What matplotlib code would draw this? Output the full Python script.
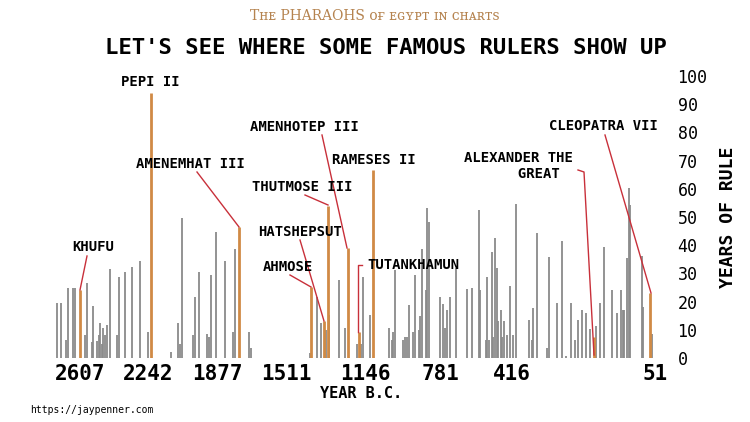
import numpy as np
import matplotlib
matplotlib.use("Agg")
import matplotlib.pyplot as plt

tick_years = [2607, 2242, 1877, 1511, 1146, 781, 416, 51]
tick_pos = [80, 148, 217, 286, 365, 440, 512, 655]

years = [2729, 2709, 2682, 2671, 2643, 2635, 2582, 2571, 2543, 2536, 2517, 2507, 2498, 2489,
         2482, 2473, 2462, 2446, 2407, 2398, 2364, 2329, 2285, 2243,
         2120, 2082, 2073, 2062, 2006, 1995, 1972, 1932, 1918, 1909, 1882,
         1833, 1794, 1782, 1706, 1696,
         1400, 1366, 1349, 1326, 1311, 1266, 1238, 1182, 1165, 1157,
         1122, 1029, 1016, 1008, 1000, 962, 951, 940, 932, 911, 901, 885, 878, 867, 850, 843, 833,
         781, 767, 756, 747, 730, 700, 646, 619, 585, 578, 548, 545, 531, 519, 511, 502, 494, 485,
         473, 465, 455, 443, 426, 413, 406, 374, 366, 363, 353, 327, 323, 302, 289, 278, 266, 255,
         247, 238, 227, 217, 202, 193, 181, 162, 148, 139, 134, 130, 124, 119, 115, 85, 81, 58]
reigns = [19.4, 19.4, 6.4, 24.8, 24.8, 24.8, 8, 26.6, 5.5, 18.4, 6, 8, 12.4, 5,
          10.6, 8, 11.8, 31.6, 8, 28.7, 30.5, 32.3, 34.4, 9.2,
          2, 12.4, 5, 49.6, 8, 21.6, 30.5, 8.5, 7.5, 29.4, 44.7,
          34.4, 9.2, 38.6, 9.2, 3.5,
          1.8, 21.7, 12.3, 10, 15.2, 27.6, 10.6, 5, 5, 28.7,
          15.2, 10.6, 6.5, 9.3, 31.2, 6.5, 7.5, 7.5, 18.8, 9.3, 29.4, 10, 14.8, 38.6, 24.1, 53.2, 48.3,
          21.7, 19.3, 10.6, 17.1, 21.7, 32, 24.5, 24.7, 52.6, 24.1, 6.4, 28.8, 6.4, 37.7, 7.5, 42.5, 31.9, 13,
          17.1, 7.5, 13, 8, 25.6, 8, 54.6, 13.6, 6.4, 17.7, 44.4, 3.5, 35.8, 19.4, 41.6, 0.8, 19.4, 6.4,
          13.6, 17.1, 16, 10.3, 11.2, 19.4, 39.4, 24.1, 16, 24.1, 17.1, 17.1, 35.4, 60.3, 54.3, 36, 18, 8.5]

famous = ["KHUFU", "PEPI II", "AMENEMHAT III", "AHMOSE", "HATSHEPSUT", "THUTMOSE III",
          "AMENHOTEP III", "TUTANKHAMUN", "RAMESES II", "ALEXANDER THE\nGREAT", "CLEOPATRA VII"]
famous_years = [2607, 2226, 1759, 1395, 1334, 1317, 1226, 1174, 1106, 206, 64]
famous_reigns = [24, 94, 46.5, 25.3, 13, 54, 38.9, 9.3, 66.7, 7.5, 23]

ty = -np.array(tick_years, float)
tp = np.array(tick_pos, float)
def _f(y):
    y = -np.asarray(y, float)
    out = np.interp(y, ty, tp)
    out = np.where(y < ty[0], tp[0] + (y - ty[0]) * (tp[1]-tp[0])/(ty[1]-ty[0]), out)
    out = np.where(y > ty[-1], tp[-1] + (y - ty[-1]) * (tp[-1]-tp[-2])/(ty[-1]-ty[-2]), out)
    return out
def _inv(p):
    p = np.asarray(p, float)
    out = np.interp(p, tp, ty)
    out = np.where(p < tp[0], ty[0] + (p - tp[0]) * (ty[1]-ty[0])/(tp[1]-tp[0]), out)
    out = np.where(p > tp[-1], ty[-1] + (p - tp[-1]) * (ty[-1]-ty[-2])/(tp[-1]-tp[-2]), out)
    return -out
def fwd(y):
    return -_f(y)
def inv(v):
    return _inv(-np.asarray(v, float))

mono = "DejaVu Sans Mono"
fig = plt.figure(figsize=(7.5, 4.22), dpi=100)
ax = fig.add_axes([50/750, (422-358)/422, 622/750, 282/422])
ax.set_xscale("function", functions=(fwd, inv))
gray = "#8a8a8a"
orange = "#d08a45"
red = "#c8303a"
ax.vlines(years, 0, reigns, color=gray, lw=1.3)
ax.vlines(famous_years, 0, famous_reigns, color=orange, lw=2)
ax.set_xlim(2768, 8)
ax.set_ylim(0, 100)
for s in ax.spines.values():
    s.set_visible(False)
ax.set_xticks(tick_years)
ax.set_xticklabels([str(t) for t in tick_years], fontsize=15, fontweight="bold", family=mono)
ax.minorticks_off()
ax.yaxis.tick_right()
ax.set_yticks(range(0, 101, 10))
ax.set_yticklabels([str(v) for v in range(0, 101, 10)], fontsize=12, family=mono)
ax.tick_params(length=0, pad=4)
ax.yaxis.set_label_position("right")
ax.set_ylabel("YEARS OF RULE", fontsize=13, fontweight="bold", family=mono, labelpad=8)
ax.set_xlabel("YEAR B.C.", fontsize=11, fontweight="bold", family=mono, labelpad=2)

ann = [
    ("KHUFU", (93, 247), [(87, 256), (80, 290)]),
    ("PEPI II", (150, 82), []),
    ("AMENEMHAT III", (190, 164), [(197, 172), (239, 227)]),
    ("AHMOSE", (288, 267), [(290, 275), (311, 287)]),
    ("HATSHEPSUT", (300, 232), [(300, 240), (324, 321)]),
    ("THUTMOSE III", (302, 187), [(305, 195), (328, 205)]),
    ("AMENHOTEP III", (304, 127), [(322, 135), (347, 248)]),
    ("TUTANKHAMUN", (413, 265), [(362, 265), (358, 265), (358, 332)]),
    ("RAMESES II", (374, 160), []),
    ("ALEXANDER THE\n     GREAT", (518, 166), [(578, 170), (584, 172), (594, 355)]),
    ("CLEOPATRA VII", (603, 126), [(605, 135), (651, 293)]),
]
for txt, pos, pts in ann:
    fig.text(pos[0]/750, (422-pos[1])/422, txt, ha="center", va="center",
             fontsize=10, fontweight="bold", family=mono)
    if pts:
        xs = [p[0]/750 for p in pts]
        ys = [(422-p[1])/422 for p in pts]
        fig.add_artist(plt.Line2D(xs, ys, color=red, lw=1, transform=fig.transFigure))

fig.text(0.5, 1 - 16/422, "T\u029cᴇ PHARAOHS ᴏғ ᴇɢʏᴘᴛ ɪɴ ᴄʜᴀʀᴛs", ha="center", va="center",
         fontsize=10, color="#b5834f", family=["DejaVu Serif"])
fig.text(0.515, 1 - 48/422, "LET'S SEE WHERE SOME FAMOUS RULERS SHOW UP", ha="center", va="center",
         fontsize=16, fontweight="bold", family=mono)
fig.text(30/750, 1 - 410/422, "https://jaypenner.com", ha="left", va="center", fontsize=7, family=mono)
fig.savefig("out.png", dpi=100)
